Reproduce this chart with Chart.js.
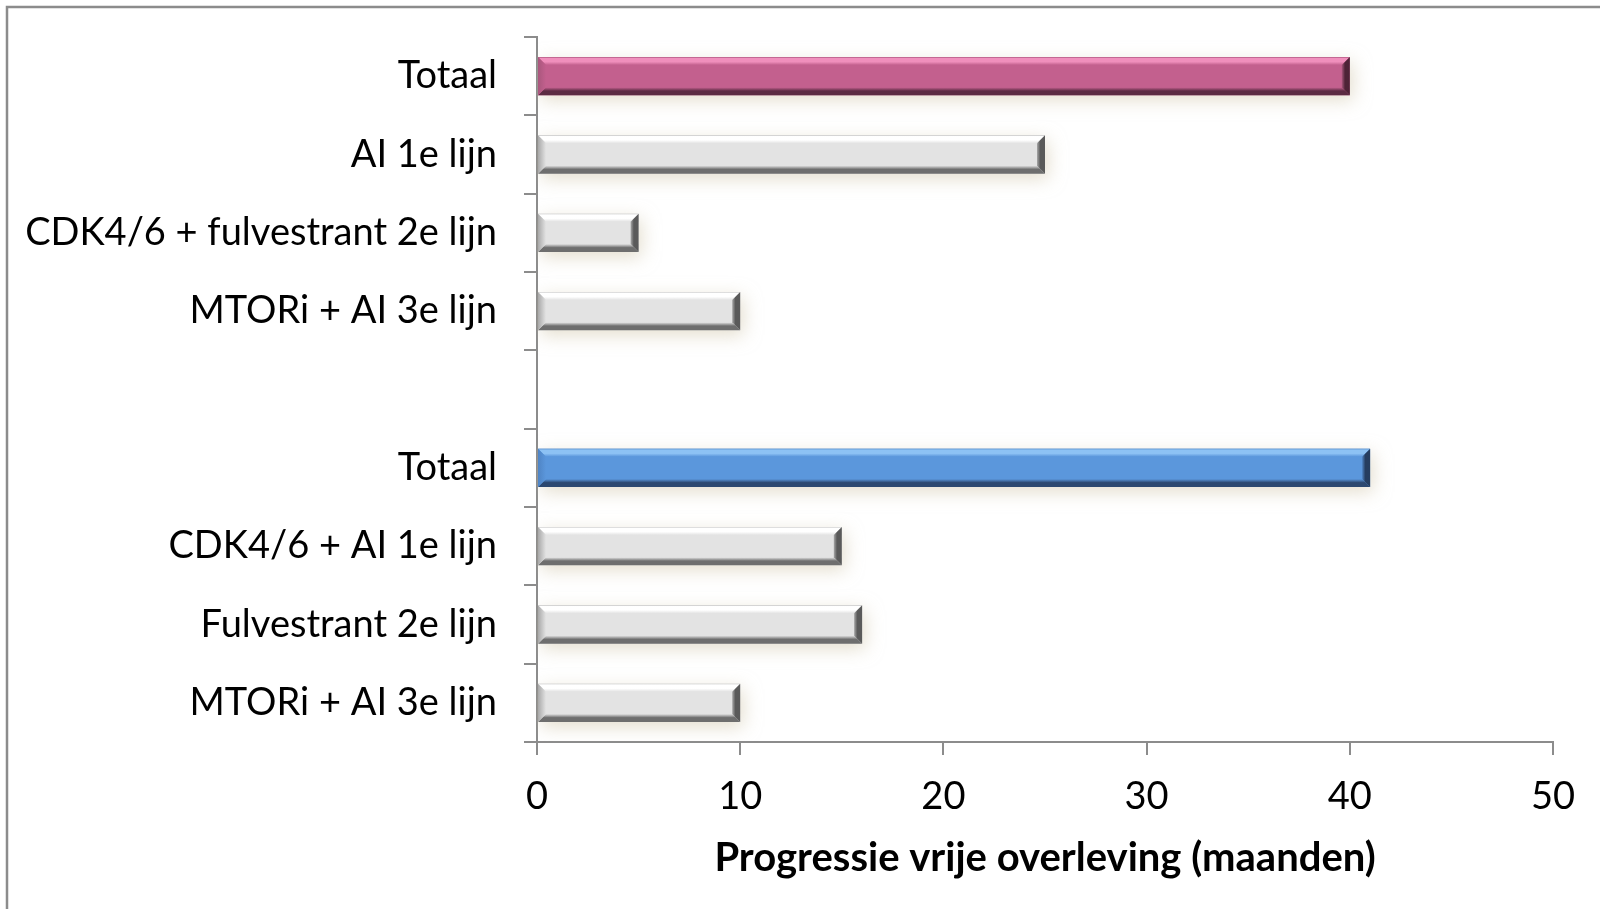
<!DOCTYPE html>
<html lang="nl">
<head>
<meta charset="utf-8">
<title>Progressie vrije overleving</title>
<script src="https://cdn.jsdelivr.net/npm/chart.js@4.4.1/dist/chart.umd.min.js"></script>
<style>
  html, body { margin: 0; padding: 0; background: #ffffff; }
  #wrap { width: 1600px; height: 909px; position: relative; }
</style>
</head>
<body>
<div id="wrap"><canvas id="pfs" width="1600" height="909"></canvas></div>
<script>
// Behandellijnen (bovenste groep, lege regel als scheiding, onderste groep)
const categories = [
  'Totaal',
  'AI 1e lijn',
  'CDK4/6 + fulvestrant 2e lijn',
  'MTORi + AI 3e lijn',
  '',
  'Totaal',
  'CDK4/6 + AI 1e lijn',
  'Fulvestrant 2e lijn',
  'MTORi + AI 3e lijn'
];
// Progressie vrije overleving in maanden
const pfsMonths = [40, 25, 5, 10, null, 41, 15, 16, 10];
// Waarden op de x-as
const xTicks = [0, 10, 20, 30, 40, 50];
const axisTitle = 'Progressie vrije overleving (maanden)';

// Kleuren: het eerste 'Totaal' roze, het tweede blauw, de rest grijs
const tones = {
  roze:  { fill: '#c3608e', edge: '#a04a72', light: '#f08fbc', dark: '#5c2b43', end: '#4e2337', side: '#a9577d' },
  blauw: { fill: '#5b97dc', edge: '#4a7fc0', light: '#8dc2f4', dark: '#2c4870', end: '#263e60', side: '#4f84c4' },
  grijs: { fill: '#e3e3e3', edge: '#c4c4c4', light: '#ffffff', dark: '#6e6e6e', end: '#5a5a5a', side: '#a8a8a8' }
};
const toneKeys = (() => {
  let totals = 0;
  return categories.map(c => {
    if (c === 'Totaal') { totals++; return totals === 1 ? 'roze' : 'blauw'; }
    return 'grijs';
  });
})();

const FONT = 'Lato, "Open Sans", sans-serif';

// Kader rond de hele grafiek
const framePlugin = {
  id: 'frame',
  beforeDraw(chart) {
    const ctx = chart.ctx;
    ctx.save();
    ctx.fillStyle = '#ffffff';
    ctx.fillRect(0, 0, chart.width, chart.height);
    ctx.strokeStyle = '#8c8c8c';
    ctx.lineWidth = 2.5;
    ctx.strokeRect(7, 7, chart.width + 20, chart.height + 20);
    ctx.restore();
  }
};

// Zachte gloed onder de balken en een afgeschuinde rand erop
const bevelPlugin = {
  id: 'bevel',
  beforeDatasetsDraw(chart) {
    const ctx = chart.ctx;
    ctx.save();
    ctx.shadowColor = 'rgba(205, 195, 165, 0.55)';
    ctx.shadowBlur = 18;
    ctx.shadowOffsetX = 3;
    ctx.shadowOffsetY = 5;
  },
  afterDatasetsDraw(chart) {
    const ctx = chart.ctx;
    ctx.restore();
    const meta = chart.getDatasetMeta(0);
    meta.data.forEach((bar, i) => {
      if (pfsMonths[i] == null) return;
      const t = tones[toneKeys[i]];
      const p = bar.getProps(['x', 'y', 'base', 'height'], true);
      const L = Math.min(p.base, p.x), R = Math.max(p.base, p.x);
      const T = p.y - p.height / 2, B = p.y + p.height / 2;
      const b = 8;
      ctx.save();
      // bovenkant
      let g = ctx.createLinearGradient(0, T, 0, T + b);
      g.addColorStop(0, t.edge);
      g.addColorStop(0.15, t.light);
      g.addColorStop(0.6, t.light);
      g.addColorStop(1, t.fill);
      ctx.fillStyle = g;
      ctx.beginPath();
      ctx.moveTo(L, T); ctx.lineTo(R, T); ctx.lineTo(R - b, T + b); ctx.lineTo(L + b, T + b); ctx.closePath();
      ctx.fill();
      // onderkant
      g = ctx.createLinearGradient(0, B - b, 0, B);
      g.addColorStop(0, t.fill);
      g.addColorStop(0.45, t.dark);
      g.addColorStop(1, t.dark);
      ctx.fillStyle = g;
      ctx.beginPath();
      ctx.moveTo(L, B); ctx.lineTo(R, B); ctx.lineTo(R - b, B - b); ctx.lineTo(L + b, B - b); ctx.closePath();
      ctx.fill();
      // rechter kopse kant
      g = ctx.createLinearGradient(R - b, 0, R, 0);
      g.addColorStop(0, t.side);
      g.addColorStop(0.4, t.end);
      g.addColorStop(1, t.end);
      ctx.fillStyle = g;
      ctx.beginPath();
      ctx.moveTo(R, T); ctx.lineTo(R, B); ctx.lineTo(R - b, B - b); ctx.lineTo(R - b, T + b); ctx.closePath();
      ctx.fill();
      // linker kopse kant
      g = ctx.createLinearGradient(L, 0, L + b, 0);
      g.addColorStop(0, t.side);
      g.addColorStop(1, t.fill);
      ctx.fillStyle = g;
      ctx.beginPath();
      ctx.moveTo(L, T); ctx.lineTo(L, B); ctx.lineTo(L + b, B - b); ctx.lineTo(L + b, T + b); ctx.closePath();
      ctx.fill();
      ctx.restore();
    });
  }
};

new Chart(document.getElementById('pfs'), {
  type: 'bar',
  data: {
    labels: categories,
    datasets: [{
      data: pfsMonths,
      backgroundColor: toneKeys.map(k => tones[k].fill),
      borderWidth: 0,
      barPercentage: 0.49,
      categoryPercentage: 1.0
    }]
  },
  options: {
    indexAxis: 'y',
    responsive: false,
    animation: false,
    devicePixelRatio: 1,
    layout: { padding: { top: 37, right: 47, bottom: 0, left: 0 } },
    plugins: {
      legend: { display: false },
      tooltip: { enabled: false }
    },
    scales: {
      x: {
        type: 'linear',
        min: 0,
        max: 50,
        afterBuildTicks(scale) { scale.ticks = xTicks.map(v => ({ value: v })); },
        afterFit(scale) { scale.height = 167; },
        border: { display: true, color: '#8c8c8c', width: 2 },
        grid: { display: true, drawOnChartArea: false, drawTicks: true, tickLength: 13, color: '#8c8c8c', lineWidth: 2 },
        ticks: { color: '#000000', font: { family: FONT, size: 38 }, padding: 19, maxRotation: 0 },
        title: {
          display: true,
          text: axisTitle,
          color: '#000000',
          font: { family: FONT, size: 40, weight: 'bold' },
          padding: { top: 0, bottom: 27 }
        }
      },
      y: {
        type: 'category',
        offset: true,
        afterFit(scale) {
          scale.width = 537;
          // de labels staan midden in hun vak, dus geen extra ruimte boven/onder nodig
          scale.paddingTop = 0;
          scale.paddingBottom = 0;
        },
        border: { display: true, color: '#8c8c8c', width: 2 },
        grid: { display: true, offset: true, drawOnChartArea: false, drawTicks: true, tickLength: 13, color: '#8c8c8c', lineWidth: 2 },
        ticks: { color: '#000000', font: { family: FONT, size: 38 }, padding: 27, autoSkip: false }
      }
    }
  },
  plugins: [framePlugin, bevelPlugin]
});
</script>
</body>
</html>
